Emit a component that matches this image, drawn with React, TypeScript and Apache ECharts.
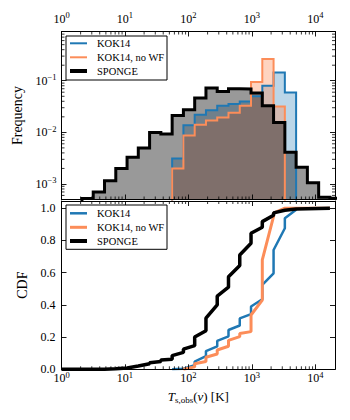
import React, { useEffect, useRef } from 'react';
import * as echarts from 'echarts';

// Histogram bin edges (K), logarithmic bins
const binEdges = [2.10, 3.16, 4.76, 7.16, 10.78, 16.2, 24.4, 36.7, 55.3, 83.2, 125.2, 188.4, 283.5, 426.6, 642, 966, 1454, 2188, 3293, 4955, 7456, 11220, 16883, 25410];

// Frequency per bin (bin i spans binEdges[i]..binEdges[i+1]); 0 = empty bin
const spongeFreq = [5.2e-4, 7.0e-4, 1.16e-3, 1.99e-3, 3.3e-3, 5.0e-3, 9.9e-3, 9.3e-3, 0.0213, 0.0275, 0.0462, 0.072, 0.0622, 0.070, 0.069, 0.0578, 0.0328, 0.0156, 4.1e-3, 2.1e-3, 1.05e-3, 5.5e-4, 5.3e-4];
const kok14Freq = [0, 0, 0, 0, 0, 0, 0, 0, 3.1e-3, 0.0137, 0.022, 0.0267, 0.0328, 0.0354, 0.0398, 0.0498, 0.080, 0.145, 0.0594, 0, 0, 0, 0];
const kok14NoWfFreq = [0, 0, 0, 0, 0, 0, 0, 0, 2.0e-3, 8.7e-3, 0.0141, 0.017, 0.0195, 0.024, 0.0328, 0.0944, 0.263, 0.0318, 0, 0, 0, 0, 0];

// Cumulative distributions: [T (K), CDF]
const spongeCdf: [number, number][] = [
  [1, 0], [3.16, 0], [4.76, 0.001], [7.16, 0.003], [10.78, 0.008], [10.78, 0.011], [16.2, 0.02], [16.2, 0.024],
  [24.4, 0.034], [24.4, 0.04], [36.7, 0.048], [36.7, 0.058], [55.3, 0.062], [55.3, 0.085], [83.2, 0.105], [83.2, 0.125],
  [125.2, 0.147], [125.2, 0.2], [188.4, 0.24], [188.4, 0.317], [283.5, 0.40], [283.5, 0.455], [426.6, 0.51], [426.6, 0.575],
  [642, 0.645], [642, 0.71], [966, 0.783], [966, 0.845], [1454, 0.882], [1454, 0.917], [2188, 0.957], [2188, 0.971],
  [3293, 0.988], [4955, 0.996], [16883, 1.0],
];
const kok14Cdf: [number, number][] = [
  [55.3, 0], [83.2, 0.004], [125.2, 0.025], [125.2, 0.048], [188.4, 0.082], [188.4, 0.113], [283.5, 0.142], [283.5, 0.176],
  [426.6, 0.205], [426.6, 0.244], [642, 0.272], [642, 0.316], [966, 0.343], [966, 0.39], [1454, 0.435], [1454, 0.524],
  [2188, 0.596], [2188, 0.741], [3293, 0.876], [3293, 0.938], [4955, 0.99], [4955, 1.0], [16883, 1.0],
];
const kok14NoWfCdf: [number, number][] = [
  [83.2, 0], [125.2, 0.015], [125.2, 0.035], [188.4, 0.048], [188.4, 0.075], [283.5, 0.095], [283.5, 0.12],
  [426.6, 0.143], [426.6, 0.18], [642, 0.203], [642, 0.222], [966, 0.234], [966, 0.337], [1454, 0.43], [1454, 0.68],
  [2188, 0.95], [2188, 0.97], [3293, 1.0], [16883, 1.0],
];

const seriesNames = ['KOK14', 'KOK14, no WF', 'SPONGE'];
const cdfTickLabels = ['0.0', '0.2', '0.4', '0.6', '0.8', '1.0'];

const X_MIN = 1;
const X_MAX = 20300;
const F_MIN = 5e-4;
const F_MAX = 0.9;
const FLOOR = 1e-6;

const C_KOK = '#1f78b4';
const C_NOWF = '#fc8d59';
const C_SPONGE = '#000000';
const FONT = '"Liberation Serif", "DejaVu Serif", serif';

function stepData(freq: number[]): [number, number][] {
  let first = 0;
  while (first < freq.length && !(freq[first] > 0)) first++;
  let last = freq.length - 1;
  while (last > 0 && !(freq[last] > 0)) last--;
  const pts: [number, number][] = [[binEdges[first], FLOOR]];
  for (let i = first; i <= last; i++) pts.push([binEdges[i], freq[i]]);
  pts.push([binEdges[last + 1], freq[last]]);
  pts.push([binEdges[last + 1], FLOOR]);
  return pts;
}

function minorLogValues(lo: number, hi: number): number[] {
  const out: number[] = [];
  for (let e = Math.floor(Math.log10(lo)); e <= Math.ceil(Math.log10(hi)); e++) {
    for (let m = 2; m <= 9; m++) {
      const v = m * Math.pow(10, e);
      if (v > lo && v < hi) out.push(v);
    }
  }
  return out;
}

const powLabel = (v: number) => {
  const l = Math.log10(v);
  const e = Math.round(l);
  if (Math.abs(l - e) > 1e-6) return '';
  return `{b|10}{s|${e < 0 ? '\u2212' + -e : e}}`;
};
const richPow = {
  b: { fontSize: 12, lineHeight: 16, fontFamily: FONT, color: '#000' },
  s: { fontSize: 8.5, lineHeight: 8, verticalAlign: 'top', fontFamily: FONT, color: '#000' },
};

const axisLineStyle = { show: true, onZero: false, lineStyle: { color: '#000', width: 1 } };
const tickStyle = { show: true, inside: true, length: 5, lineStyle: { color: '#000', width: 0.9 } };

function xLogAxis(gridIndex: number, position: string, showLabel: boolean, extra: any = {}) {
  return {
    type: 'log', logBase: 10, gridIndex, position, min: X_MIN, max: X_MAX, z: 10,
    axisLine: axisLineStyle, axisTick: tickStyle, splitLine: { show: false },
    axisLabel: { show: showLabel, formatter: powLabel, rich: richPow, margin: 5, color: '#000' },
    ...extra,
  };
}

function minorTickSeries(kind: 'x' | 'y', xAxisIndex: number, yAxisIndex: number, values: number[], ref: number) {
  return {
    type: 'custom', xAxisIndex, yAxisIndex, z: 20, silent: true, clip: false,
    data: values.map((v) => (kind === 'x' ? [v, ref] : [ref, v])),
    renderItem: (params: any, api: any) => {
      const cs = params.coordSys;
      const p = api.coord([api.value(0), api.value(1)]);
      const st = { stroke: '#000', lineWidth: 0.8 };
      const L = 3;
      if (kind === 'x') {
        if (p[0] <= cs.x + 0.5 || p[0] >= cs.x + cs.width - 0.5) return { type: 'group', children: [] };
        return {
          type: 'group', children: [
            { type: 'line', shape: { x1: p[0], y1: cs.y + cs.height, x2: p[0], y2: cs.y + cs.height - L }, style: st },
            { type: 'line', shape: { x1: p[0], y1: cs.y, x2: p[0], y2: cs.y + L }, style: st },
          ],
        };
      }
      if (p[1] <= cs.y + 0.5 || p[1] >= cs.y + cs.height - 0.5) return { type: 'group', children: [] };
      return {
        type: 'group', children: [
          { type: 'line', shape: { x1: cs.x, y1: p[1], x2: cs.x + L, y2: p[1] }, style: st },
          { type: 'line', shape: { x1: cs.x + cs.width, y1: p[1], x2: cs.x + cs.width - L, y2: p[1] }, style: st },
        ],
      };
    },
  };
}

function legendGraphic(boxY: number, boxH: number, rowYs: number[], widths: number[]) {
  const colors = [C_KOK, C_NOWF, C_SPONGE];
  const els: any[] = [
    { type: 'rect', shape: { x: 66, y: boxY, width: 101, height: boxH }, style: { fill: '#fff', stroke: '#000', lineWidth: 1 }, z: 100 },
  ];
  seriesNames.forEach((name, i) => {
    els.push({ type: 'line', shape: { x1: 70, y1: rowYs[i], x2: 87, y2: rowYs[i] }, style: { stroke: colors[i], lineWidth: widths[i] }, z: 101 });
    els.push({ type: 'text', x: 97, y: rowYs[i], style: { text: name, fontSize: 10.5, fontFamily: FONT, fill: '#000', verticalAlign: 'middle', align: 'left' }, z: 101 });
  });
  return els;
}

export default function App() {
  const ref = useRef<HTMLDivElement>(null);
  useEffect(() => {
    if (!ref.current) return;
    const chart = echarts.init(ref.current, undefined, { renderer: 'svg' });
    const histSeries = (name: string, freq: number[], color: string, fillOpacity: number, width: number) => ({
      name, type: 'line', xAxisIndex: 0, yAxisIndex: 0, step: 'end', symbol: 'none', clip: true,
      data: stepData(freq),
      lineStyle: { color, width, join: 'miter' },
      itemStyle: { color },
      areaStyle: { color, opacity: fillOpacity, origin: 'start' },
    });
    const cdfSeries = (name: string, data: [number, number][], color: string, width: number) => ({
      name, type: 'line', xAxisIndex: 2, yAxisIndex: 2, symbol: 'none', clip: true,
      data, lineStyle: { color, width }, itemStyle: { color },
    });
    const option: any = {
      animation: false,
      backgroundColor: '#fff',
      textStyle: { fontFamily: FONT },
      grid: [
        { left: 61.5, top: 31.5, width: 273.5, height: 168 },
        { left: 61.5, top: 201, width: 273.5, height: 168.3 },
      ],
      xAxis: [
        xLogAxis(0, 'bottom', false),
        xLogAxis(0, 'top', true),
        xLogAxis(1, 'bottom', true, {
          name: '{i|T}{sub|s,obs}({i|v}) [K]', nameLocation: 'middle', nameGap: 19,
          nameTextStyle: {
            fontSize: 13, fontFamily: FONT, color: '#000', lineHeight: 16,
            rich: {
              i: { fontSize: 13, fontStyle: 'italic', fontFamily: FONT, lineHeight: 16 },
              sub: { fontSize: 9, fontFamily: FONT, lineHeight: 9, verticalAlign: 'bottom' },
            },
          },
          axisLabel: { show: true, formatter: powLabel, rich: richPow, margin: 1, color: '#000' },
        }),
        xLogAxis(1, 'top', false),
      ],
      yAxis: [
        {
          type: 'log', logBase: 10, gridIndex: 0, position: 'left', min: F_MIN, max: F_MAX, z: 10,
          axisLine: axisLineStyle, axisTick: tickStyle, splitLine: { show: false },
          axisLabel: { show: true, formatter: powLabel, rich: richPow, margin: 5, color: '#000' },
          name: 'Frequency', nameLocation: 'middle', nameGap: 34,
          nameTextStyle: { fontSize: 14, fontFamily: FONT, color: '#000' },
        },
        {
          type: 'log', logBase: 10, gridIndex: 0, position: 'right', min: F_MIN, max: F_MAX, z: 10,
          axisLine: axisLineStyle, axisTick: tickStyle, splitLine: { show: false }, axisLabel: { show: false },
        },
        {
          type: 'value', gridIndex: 1, position: 'left', min: 0, max: 1.045, interval: 0.2, z: 10,
          axisLine: axisLineStyle, axisTick: tickStyle, splitLine: { show: false },
          axisLabel: {
            show: true, margin: 6, color: '#000', fontSize: 12, fontFamily: FONT,
            formatter: (v: number) => {
              const k = Math.round(v / 0.2);
              return Math.abs(v - k * 0.2) < 1e-6 && k >= 0 && k < cdfTickLabels.length ? cdfTickLabels[k] : '';
            },
          },
          name: 'CDF', nameLocation: 'middle', nameGap: 23,
          nameTextStyle: { fontSize: 14, fontFamily: FONT, color: '#000' },
        },
        {
          type: 'value', gridIndex: 1, position: 'right', min: 0, max: 1.045, interval: 0.2, z: 10,
          axisLine: axisLineStyle, axisTick: tickStyle, splitLine: { show: false }, axisLabel: { show: false },
        },
      ],
      series: [
        histSeries(seriesNames[0], kok14Freq, C_KOK, 0.3, 2),
        histSeries(seriesNames[1], kok14NoWfFreq, C_NOWF, 0.38, 2),
        histSeries(seriesNames[2], spongeFreq, C_SPONGE, 0.4, 3),
        cdfSeries(seriesNames[0], kok14Cdf, C_KOK, 2.5),
        cdfSeries(seriesNames[1], kok14NoWfCdf, C_NOWF, 3),
        cdfSeries(seriesNames[2], spongeCdf, C_SPONGE, 3.5),
        minorTickSeries('x', 0, 0, minorLogValues(X_MIN, X_MAX), 0.01),
        minorTickSeries('y', 0, 0, minorLogValues(F_MIN, F_MAX), 10),
        minorTickSeries('x', 2, 2, minorLogValues(X_MIN, X_MAX), 0.5),
      ],
      graphic: [
        ...legendGraphic(36, 44, [43.3, 57.3, 71], [2, 2, 4]),
        ...legendGraphic(205, 44.3, [213.3, 227.3, 241], [2.5, 3, 4]),
      ],
    };
    chart.setOption(option);
    return () => chart.dispose();
  }, []);
  return (
    <div
      ref={ref}
      style={{ position: 'fixed', left: 0, top: 0, width: 350, height: 420, background: '#fff' }}
    />
  );
}
